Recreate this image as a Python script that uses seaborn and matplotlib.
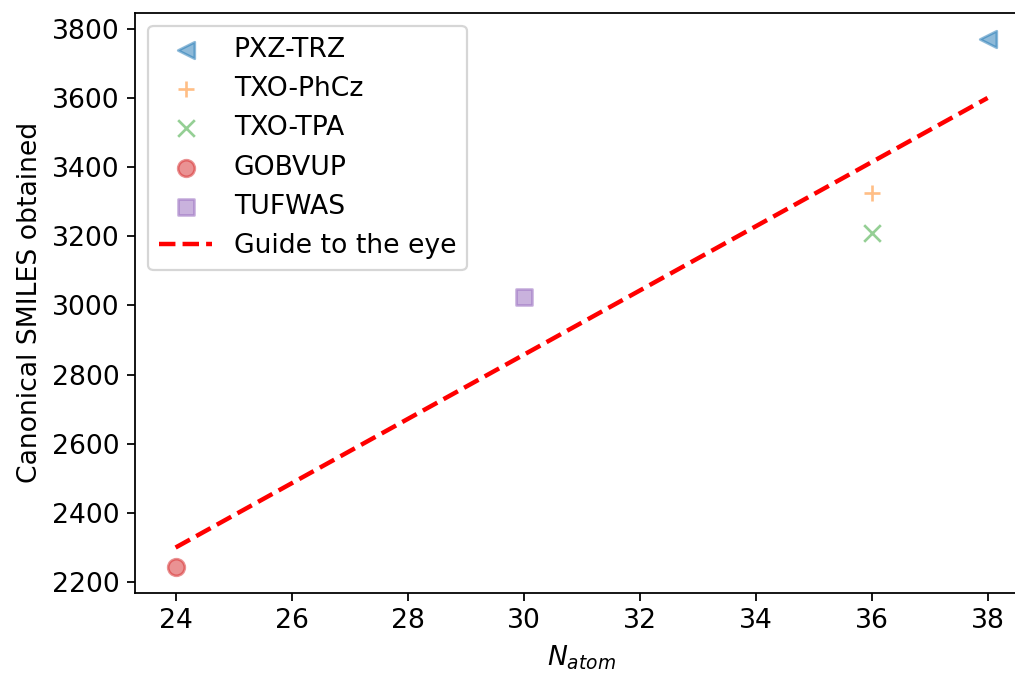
import matplotlib
matplotlib.use("Agg")
import matplotlib.pyplot as plt
import seaborn as sns
import pandas as pd

# Molecules: atom count vs. number of canonical SMILES obtained
molecules = ["PXZ-TRZ", "TXO-PhCz", "TXO-TPA", "GOBVUP", "TUFWAS"]
n_atom = [38, 36, 36, 24, 30]
smiles_count = [3770, 3325, 3210, 2245, 3025]
marker_styles = ["<", "+", "x", "o", "s"]

# Linear guide line end points
guide_x = [24, 38]
guide_y = [2300, 3600]

df = pd.DataFrame({"molecule": molecules, "natom": n_atom, "smiles": smiles_count})
guide = pd.DataFrame({"natom": guide_x, "smiles": guide_y})

plt.rcParams["font.size"] = 12

dpi = 160
fig = plt.figure(figsize=(1015 / dpi, 673 / dpi), dpi=dpi)
ax = fig.add_axes([0.133, 0.119, 0.88, 0.862])

palette = sns.color_palette("tab10", len(molecules))
for i, name in enumerate(molecules):
    sub = df[df["molecule"] == name]
    line_marker = marker_styles[i] in ("+", "x")
    sns.scatterplot(data=sub, x="natom", y="smiles", marker=marker_styles[i],
                    color=palette[i], alpha=0.5, s=56, label=name, ax=ax,
                    linewidth=1.2,
                    edgecolor=None if line_marker else palette[i])

sns.lineplot(data=guide, x="natom", y="smiles", color="red", linestyle="--",
             linewidth=2, label="Guide to the eye", ax=ax)

ax.set_xlabel(r"$N_{atom}$")
ax.set_ylabel("Canonical SMILES obtained")
ax.set_xticks([24, 26, 28, 30, 32, 34, 36, 38])
ax.set_xlim(23.3, 38.7)
ax.legend(loc="upper left", fontsize=12)

fig.savefig("out.png", dpi=dpi)
